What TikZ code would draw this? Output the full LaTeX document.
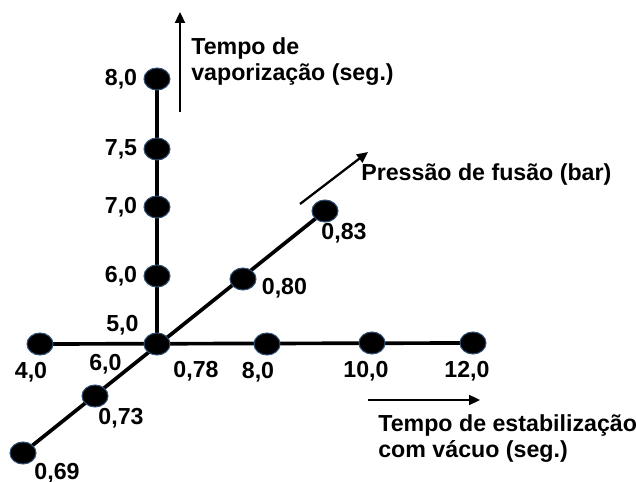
\documentclass[tikz,border=0pt]{standalone}
\usepackage{fontspec}
\setmainfont{Liberation Sans}
\usetikzlibrary{arrows.meta,positioning,shapes.geometric,backgrounds}
\definecolor{ink}{HTML}{000000}
\definecolor{dotrim}{HTML}{2F4F75}
\tikzset{
  dot/.style      = {ellipse, minimum width=5.2mm, minimum height=4.4mm, inner sep=0pt,
                     fill=ink, draw=dotrim, line width=0.6pt},
  tick/.style     = {inner sep=0pt, text=ink, font=\fontsize{13.2}{15}\selectfont\bfseries},
  axtitle/.style  = {tick, align=left, anchor=north west},
  axisline/.style = {draw=ink, line width=2.1pt},
  flow/.style     = {-{Triangle[length=2.2mm,width=2mm]}, draw=ink, line width=1.3pt},
}

\begin{document}
\begin{tikzpicture}[x=0.02cm,y=-0.02cm]
  \useasboundingbox (0,0) rectangle (636,482);
  % origin and levels on the three axes
  \node[dot] (c)   at (157,344) {};
  \node[dot] (v6)  at (157,276) {};
  \node[dot] (v7)  at (157,207) {};
  \node[dot] (v75) at (157,149) {};
  \node[dot] (v8)  at (157,79)  {};
  \node[dot] (h4)  at (40,344)  {};
  \node[dot] (h8)  at (267,344) {};
  \node[dot] (h10) at (372,343) {};
  \node[dot] (h12) at (473,343) {};
  \node[dot] (d69) at (23,453)  {};
  \node[dot] (d73) at (95,396)  {};
  \node[dot] (d80) at (243,279) {};
  \node[dot] (d83) at (325,211) {};
  \begin{scope}[on background layer]
    \draw[axisline] (h4.center) -- (h12.center);
    \draw[axisline] (c.center) -- (v8.center);
    \draw[axisline] (d69.center) -- (d83.center);
  \end{scope}

  % values
  \node[tick,left=1.2mm of v8]  (t8)  {8,0};
  \node[tick,left=1.2mm of v75] (t75) {7,5};
  \node[tick,left=1.2mm of v7]  (t7)  {7,0};
  \node[tick,left=1.2mm of v6]  (t6)  {6,0};
  \node[tick,above left=0mm and 1.7mm of c] (t5) {5,0};
  \node[tick,below left=0.3mm and 5.1mm of c] (t6h) {6,0};
  \node[tick,below right=1.7mm and 1.3mm of c] (t78) {0,78};
  \node[tick,below=1.3mm of h4,xshift=-1.8mm]  (t4)  {4,0};
  \node[tick,below=1.3mm of h8,xshift=-1.8mm]  (t8h) {8,0};
  \node[tick,below=1.3mm of h10,xshift=-1.2mm] (t10) {10,0};
  \node[tick,below=1.3mm of h12,xshift=-1.2mm] (t12) {12,0};
  \node[tick,below=0.1mm of d73,xshift=5.2mm] (t73) {0,73};
  \node[tick,below=-0.4mm of d69,xshift=6.8mm] (t69) {0,69};
  \node[tick,right=1mm of d80,yshift=-1.8mm]  (t80) {0,80};
  \node[tick,below=0mm of d83,xshift=3.8mm]   (t83) {0,83};

  % axis names
  \coordinate (va) at (180,112);
  \coordinate (vb) at (180,12);
  \draw[flow] (va) -- (vb);
  \node[axtitle] (vt) at (191,37) {Tempo de\\vaporização (seg.)};
  \coordinate (pa) at (300,204);
  \coordinate (pb) at (368,152);
  \draw[flow] (pa) -- (pb);
  \node[axtitle] (pt) at (361,163) {Pressão de fusão (bar)};
  \coordinate (ha) at (368,400);
  \coordinate (hb) at (480,400);
  \draw[flow] (ha) -- (hb);
  \node[axtitle] (ht) at (378,414) {Tempo de estabilização\\com vácuo (seg.)};
\end{tikzpicture}
\end{document}
